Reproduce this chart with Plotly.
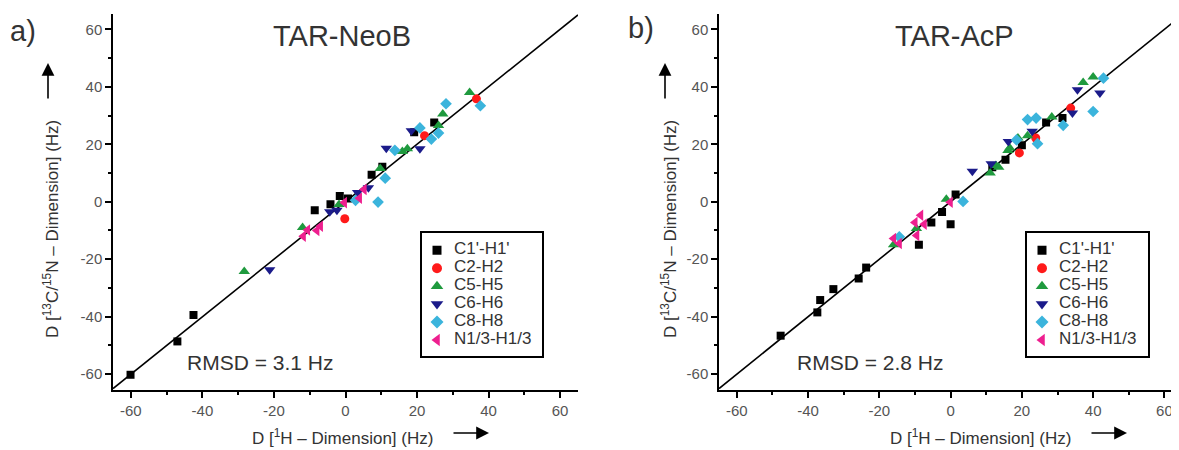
import plotly.graph_objects as go

# the page body adds an 8px margin, so the figure is drawn 8px smaller
PAGE_W, PAGE_H = 1179, 450
OFF = 8
W, H = PAGE_W - OFF, PAGE_H - OFF

# series shared by both panels
series_names = ["C1'-H1'", "C2-H2", "C5-H5", "C6-H6", "C8-H8", "N1/3-H1/3"]
series_symbols = ["square", "circle", "triangle-up", "triangle-down", "diamond", "triangle-left"]
series_colors = ["#000000", "#ff1a1a", "#1f9a3e", "#1b1b8a", "#3bb4dc", "#ee1f8f"]
series_sizes = [8, 9, 10, 10, 9, 10]

axis_ticks = [-60, -40, -20, 0, 20, 40, 60]
minor_ticks = [-50, -30, -10, 10, 30, 50]
diag_line = [-65, 65]

# a) TAR-NeoB  (x = D 1H, y = D 13C/15N)
neob_c1_x = [-60.1, -47.0, -42.5, -8.6, -4.2, -1.6, 0.7, 7.3, 10.3, 19.2, 24.8]
neob_c1_y = [-60.2, -48.6, -39.4, -3.0, -0.9, 2.0, 1.1, 9.4, 12.2, 24.2, 27.6]
neob_c2_x = [-0.2, 22.1, 36.6]
neob_c2_y = [-5.9, 23.0, 35.8]
neob_c5_x = [-28.3, -12.0, -1.8, 9.7, 15.9, 17.3, 26.0, 27.2, 34.7]
neob_c5_y = [-24.3, -9.0, -1.0, 11.6, 17.5, 18.4, 26.5, 30.5, 38.0]
neob_c6_x = [-21.2, -4.4, -2.4, 3.4, 6.4, 11.4, 18.4, 20.8]
neob_c6_y = [-23.7, -3.5, -3.0, 3.2, 4.9, 18.6, 24.7, 18.4]
neob_c8_x = [2.8, 9.1, 11.1, 13.8, 20.8, 24.0, 26.0, 28.1, 37.7]
neob_c8_y = [0.5, -0.1, 8.2, 17.9, 25.7, 21.8, 23.9, 34.1, 33.4]
neob_n1_x = [-11.8, -10.6, -8.0, -7.0, -0.3, 3.9, 5.2]
neob_n1_y = [-12.0, -9.8, -10.0, -8.5, -0.3, 1.2, 4.3]

# b) TAR-AcP
acp_c1_x = [-47.7, -37.4, -36.6, -32.9, -25.8, -23.7, -8.9, -5.4, -2.4, 0.0, 1.4, 11.7, 15.4, 20.0, 26.8, 31.4]
acp_c1_y = [-46.6, -38.5, -34.2, -30.4, -26.7, -22.9, -15.0, -7.2, -3.6, -7.8, 2.5, 12.0, 14.6, 19.7, 27.6, 29.1]
acp_c2_x = [19.3, 23.9, 33.7]
acp_c2_y = [17.0, 22.2, 32.6]
acp_c5_x = [-16.0, -9.6, -1.2, 11.1, 12.7, 13.5, 16.1, 16.6, 18.9, 21.6, 28.4, 37.2, 40.0]
acp_c5_y = [-15.0, -9.3, 0.9, 10.0, 12.6, 12.0, 17.8, 18.7, 22.2, 23.0, 29.5, 41.5, 43.4]
acp_c6_x = [6.1, 11.4, 16.2, 22.9, 34.2, 35.6, 41.9]
acp_c6_y = [10.6, 13.2, 21.0, 24.5, 30.9, 39.0, 37.8]
acp_c8_x = [-14.4, 3.5, 18.5, 21.6, 24.0, 24.4, 31.6, 40.0, 42.9]
acp_c8_y = [-12.2, 0.1, 21.5, 28.6, 29.1, 20.2, 26.6, 31.4, 43.0]
acp_n1_x = [-16.0, -14.4, -10.0, -8.4, -9.5, -7.4, -0.1]
acp_n1_y = [-12.8, -14.5, -7.2, -4.7, -11.7, -7.8, -0.2]

panel_titles = ["TAR-NeoB", "TAR-AcP"]
panel_letters = ["a)", "b)"]
rmsd_labels = ["RMSD = 3.1 Hz", "RMSD = 2.8 Hz"]

FONT = "Liberation Sans, Arial, sans-serif"


def px_x(p):
    # page pixel -> paper fraction
    return (p - OFF) / W


def px_y(p):
    return 1 - (p - OFF) / H


def data_axis(domain, rng, anchor):
    return dict(
        domain=domain, range=rng, anchor=anchor,
        showline=True, linecolor="black", linewidth=1.5,
        showgrid=False, zeroline=False,
        ticks="outside", ticklen=6, tickwidth=1.5, tickcolor="black",
        tickmode="array", tickvals=axis_ticks, ticktext=[str(v) for v in axis_ticks],
        tickfont=dict(family=FONT, size=15, color="#555"),
        minor=dict(tickmode="array", tickvals=minor_ticks, ticks="outside",
                   ticklen=3, tickwidth=1.5, tickcolor="black", showgrid=False),
    )


def box_axis(domain, rng, anchor):
    return dict(
        domain=domain, range=rng, anchor=anchor,
        showline=True, mirror=True, linecolor="black", linewidth=1.8,
        showgrid=False, zeroline=False, showticklabels=False, ticks="",
    )


def main():
    fig = go.Figure()

    panels = [
        ("x", "y", [(neob_c1_x, neob_c1_y), (neob_c2_x, neob_c2_y), (neob_c5_x, neob_c5_y),
                    (neob_c6_x, neob_c6_y), (neob_c8_x, neob_c8_y), (neob_n1_x, neob_n1_y)]),
        ("x2", "y2", [(acp_c1_x, acp_c1_y), (acp_c2_x, acp_c2_y), (acp_c5_x, acp_c5_y),
                      (acp_c6_x, acp_c6_y), (acp_c8_x, acp_c8_y), (acp_n1_x, acp_n1_y)]),
    ]

    for xa, ya, series in panels:
        # y = x reference line
        fig.add_trace(go.Scatter(x=diag_line, y=diag_line, mode="lines", xaxis=xa, yaxis=ya,
                                 line=dict(color="black", width=1.6), showlegend=False))
        for i, (sx, sy) in enumerate(series):
            fig.add_trace(go.Scatter(
                x=sx, y=sy, mode="markers", xaxis=xa, yaxis=ya, name=series_names[i],
                marker=dict(symbol=series_symbols[i], color=series_colors[i], size=series_sizes[i],
                            line=dict(width=0)),
                showlegend=False))

    # hand-made legend boxes (one per panel)
    rows = list(range(len(series_names)))
    for xa, ya in [("x3", "y3"), ("x4", "y4")]:
        for i in rows:
            fig.add_trace(go.Scatter(
                x=[15], y=[i], mode="markers", xaxis=xa, yaxis=ya, showlegend=False,
                marker=dict(symbol=series_symbols[i], color=series_colors[i],
                            size=series_sizes[i] + 1, line=dict(width=0))))
        fig.add_trace(go.Scatter(
            x=[32] * len(rows), y=rows, mode="text", text=series_names, xaxis=xa, yaxis=ya,
            textposition="middle right", showlegend=False,
            textfont=dict(family=FONT, size=17, color="#333")))

    y_dom = [px_y(390), px_y(13.5)]
    leg_dom = [px_y(356), px_y(233)]
    fig.update_layout(
        width=W, height=H, autosize=False,
        margin=dict(l=0, r=0, t=0, b=0),
        paper_bgcolor="white", plot_bgcolor="white",
        showlegend=False,
        xaxis=data_axis([px_x(113), px_x(578)], [-65, 65], "y"),
        yaxis=data_axis(y_dom, [-65.5, 65.5], "x"),
        xaxis2=data_axis([px_x(719), 1.0], [-65, 64.1], "y2"),
        yaxis2=data_axis(y_dom, [-65.5, 65.5], "x2"),
        xaxis3=box_axis([px_x(422), px_x(542)], [0, 120], "y3"),
        yaxis3=box_axis(leg_dom, [5.89, -0.96], "x3"),
        xaxis4=box_axis([px_x(1027), px_x(1148)], [0, 121], "y4"),
        yaxis4=box_axis(leg_dom, [5.89, -0.96], "x4"),
    )

    ytitle = "D [<sup>13</sup>C/<sup>15</sup>N \u2013 Dimension] (Hz)"
    xtitle = "D [<sup>1</sup>H \u2013 Dimension] (Hz)"
    dark = "#333"
    ann = []
    # per panel text, positions in page pixels
    spots = [
        dict(title_x=342, letter_x=23, letter_y=31, rmsd_x=260, ytit_x=51, xtit_x=342, xarr=489, yarr_x=48),
        dict(title_x=954, letter_x=641, letter_y=28, rmsd_x=870, ytit_x=669, xtit_x=980, xarr=1127, yarr_x=665),
    ]
    for k, s in enumerate(spots):
        ann.append(dict(text=panel_titles[k], x=px_x(s["title_x"]), y=px_y(36), xref="paper", yref="paper",
                        showarrow=False, xanchor="center", yanchor="middle",
                        font=dict(family=FONT, size=29, color=dark)))
        ann.append(dict(text=panel_letters[k], x=px_x(s["letter_x"]), y=px_y(s["letter_y"]), xref="paper",
                        yref="paper", showarrow=False, xanchor="center", yanchor="middle",
                        font=dict(family=FONT, size=29, color=dark)))
        ann.append(dict(text=rmsd_labels[k], x=px_x(s["rmsd_x"]), y=px_y(362), xref="paper", yref="paper",
                        showarrow=False, xanchor="center", yanchor="middle",
                        font=dict(family=FONT, size=21, color=dark)))
        ann.append(dict(text=ytitle, x=px_x(s["ytit_x"]), y=px_y(229), xref="paper", yref="paper",
                        showarrow=False, textangle=-90, xanchor="center", yanchor="middle",
                        font=dict(family=FONT, size=17, color=dark)))
        ann.append(dict(text=xtitle, x=px_x(s["xtit_x"]), y=px_y(437), xref="paper", yref="paper",
                        showarrow=False, xanchor="center", yanchor="middle",
                        font=dict(family=FONT, size=17, color=dark)))
        # direction arrows
        ann.append(dict(text="", x=px_x(s["xarr"]), y=px_y(433), xref="paper", yref="paper",
                        showarrow=True, ax=-37, ay=0, arrowhead=2, arrowsize=1.6, arrowwidth=1.6,
                        arrowcolor="black", standoff=0))
        ann.append(dict(text="", x=px_x(s["yarr_x"]), y=px_y(63), xref="paper", yref="paper",
                        showarrow=True, ax=0, ay=37, arrowhead=2, arrowsize=1.6, arrowwidth=1.6,
                        arrowcolor="black", standoff=0))
    fig.update_layout(annotations=ann)

    fig.write_html("out.html")


if __name__ == "__main__":
    main()
